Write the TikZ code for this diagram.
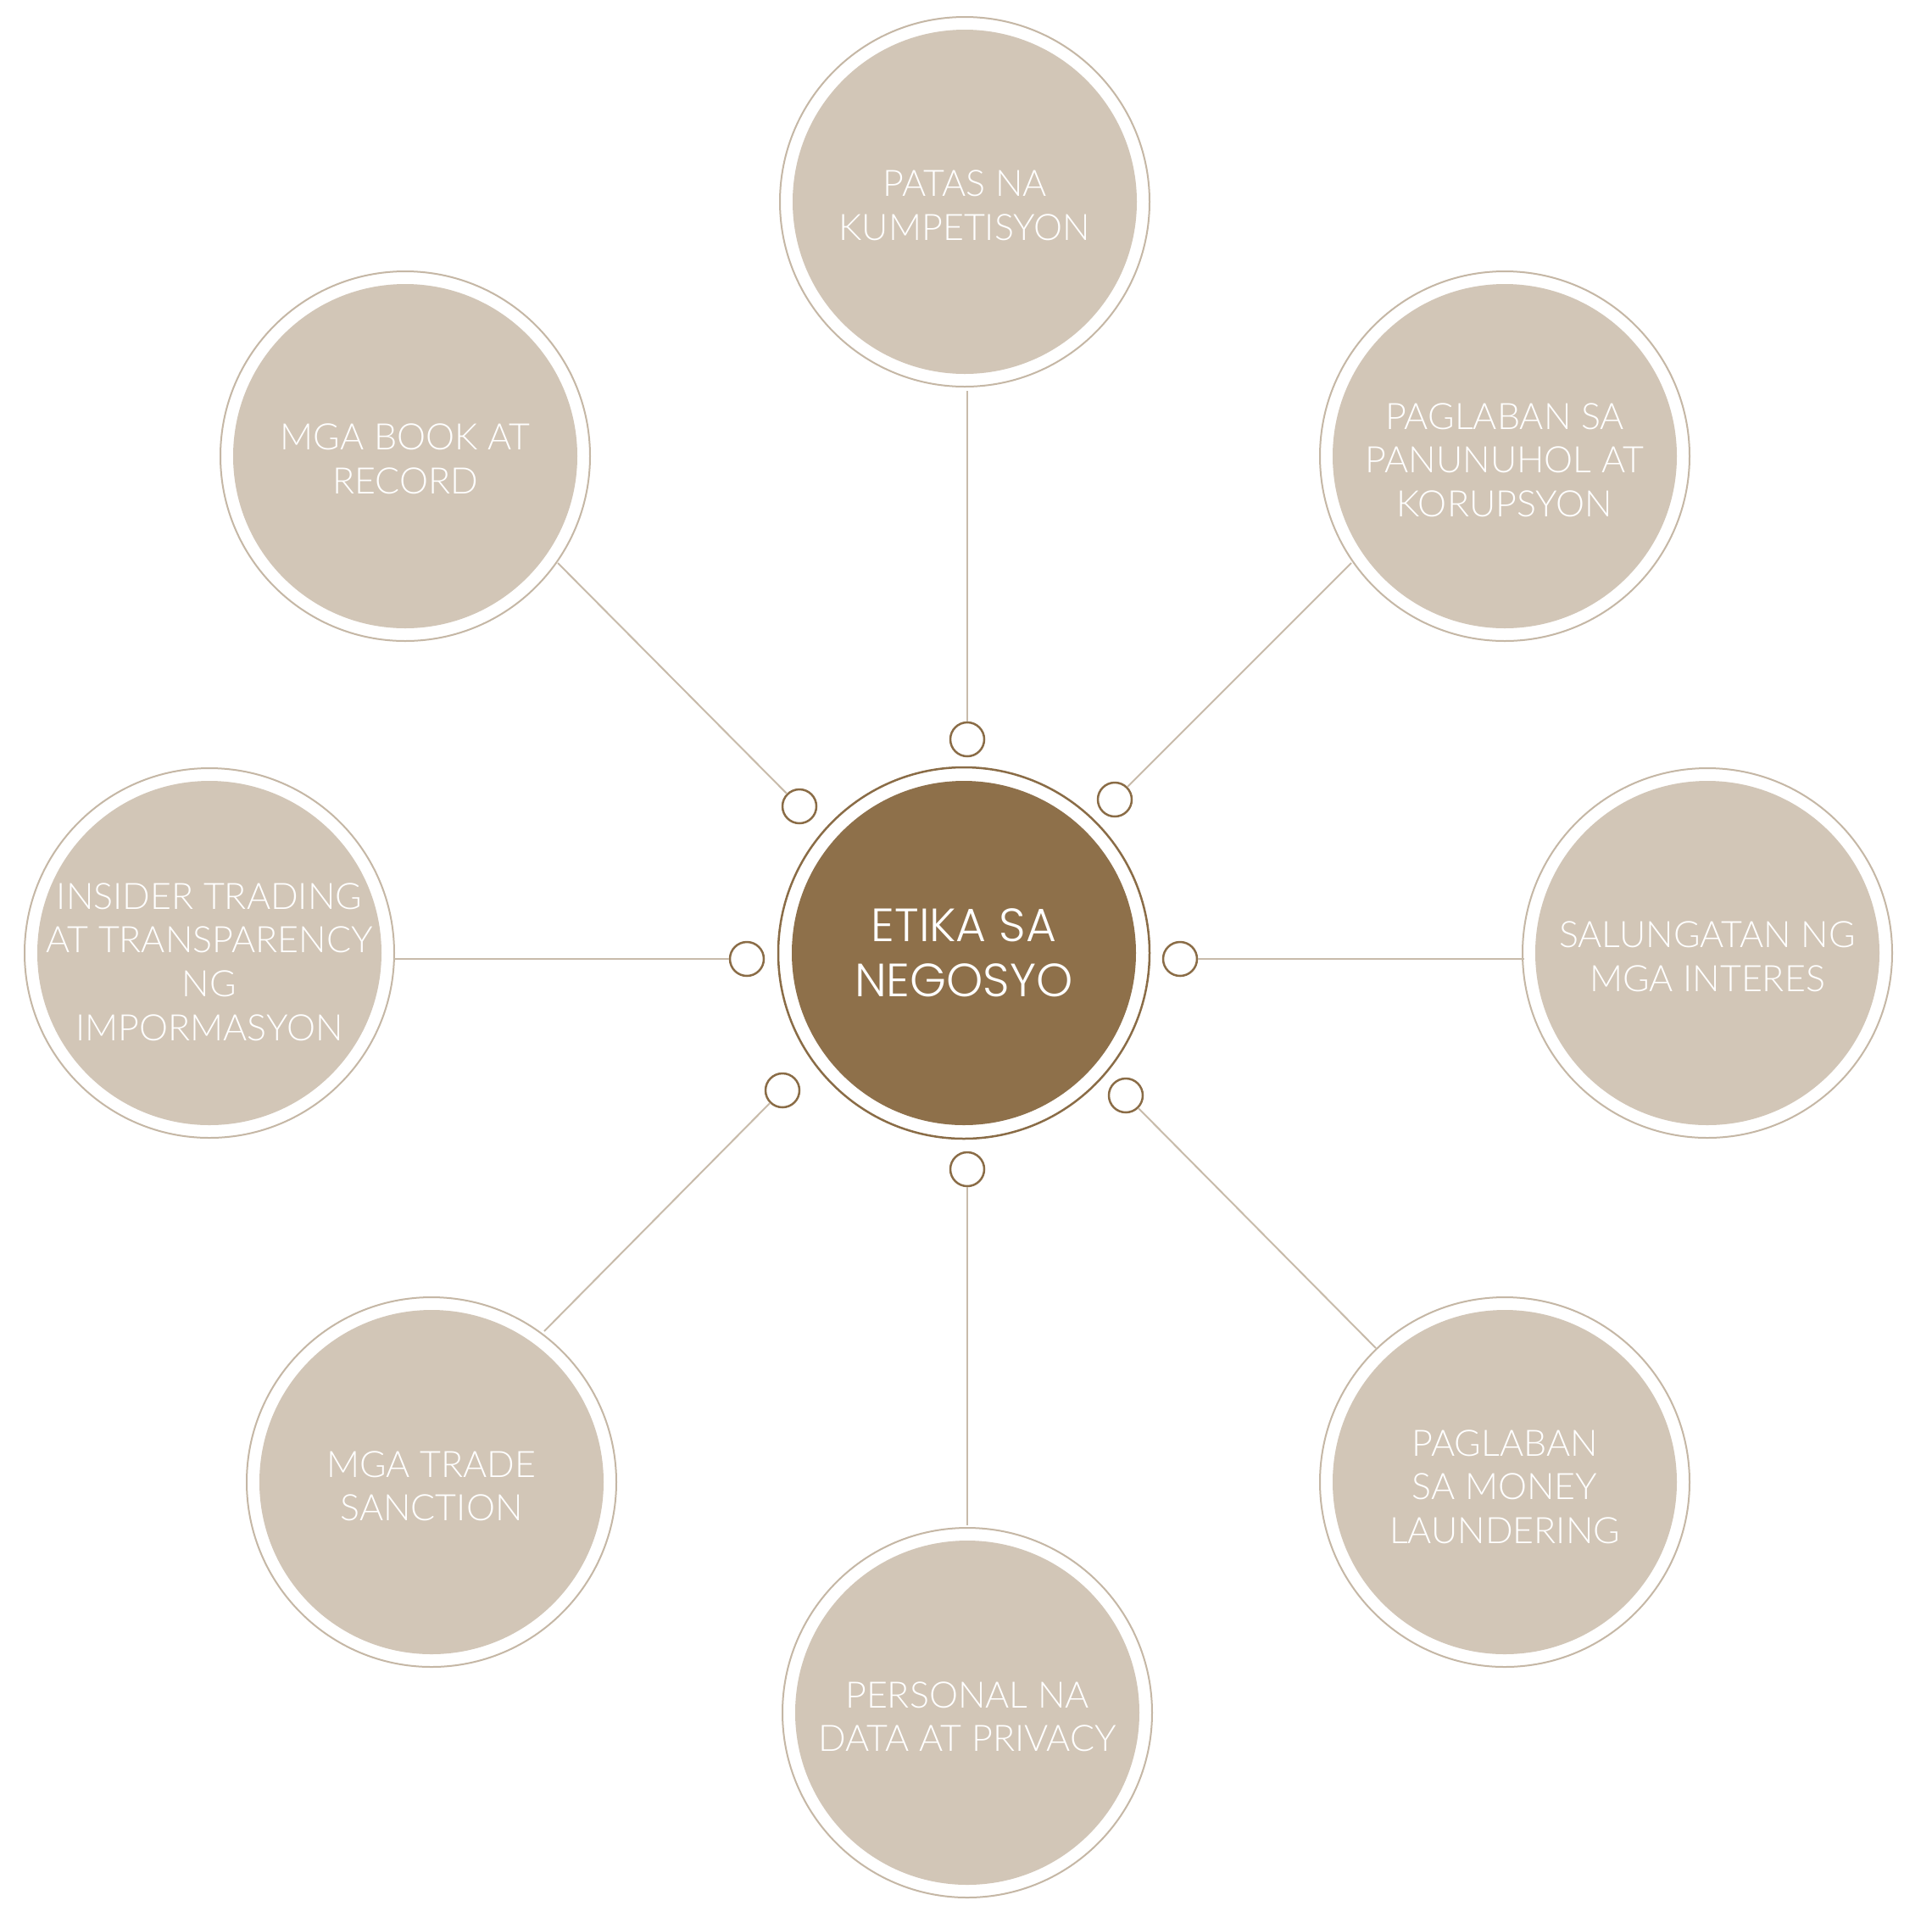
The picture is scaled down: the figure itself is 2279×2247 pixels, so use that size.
\documentclass[tikz,border=0pt]{standalone}
\usepackage{fontspec}
\newfontfamily\topicfont{Lato Light}
\newfontfamily\hubfont{Poppins Light}
\definecolor{tanfill}{HTML}{D2C6B7}
\definecolor{tanring}{HTML}{C5B7A5}
\definecolor{tanline}{HTML}{C8BBAA}
\definecolor{brownfill}{HTML}{8E704A}
\definecolor{brownline}{HTML}{8A6C46}
\newcommand{\topstrut}[1]{\rule{0pt}{#1}}
\begin{document}
\begin{tikzpicture}[x=1pt,y=-1pt,
  topic/.style={circle, fill=tanfill, minimum size=406pt, inner sep=0pt},
  ttext/.style={text=white, align=center, inner sep=0pt,
    font=\topicfont\fontsize{43}{51.7}\selectfont},
  hub/.style={circle, fill=brownfill, minimum size=406pt, inner sep=0pt, text=white, align=center,
    font=\hubfont\fontsize{55}{65}\selectfont},
  ringT/.style={draw=tanring, line width=2pt},
  ringH/.style={draw=brownline, line width=2.5pt},
  dot/.style={circle, draw=brownline, line width=2.5pt, fill=white, minimum size=40pt, inner sep=0pt},
  conn/.style={draw=tanline, line width=2pt}]
\useasboundingbox (0,0) rectangle (2279,2247);
\fill[white] (0,0) rectangle (2279,2247);

% hub
\node[hub] (hub) at (1137,1124) {ETIKA SA\\NEGOSYO};
\draw[ringH] (hub.center) circle[radius=219];

% topics
\node[topic, label={[ttext]center:{\topstrut{40pt}PATAS NA\\KUMPETISYON}}] (t1) at (1138,238) {};
\node[topic, label={[ttext]center:{\topstrut{40pt}PAGLABAN SA\\PANUNUHOL AT\\KORUPSYON}}] (t2) at (1775,538) {};
\node[topic, label={[ttext]center:{\topstrut{40pt}SALUNGATAN NG\\MGA INTERES}}] (t3) at (2014,1124) {};
\node[topic, label={[ttext]center:{\topstrut{42pt}PAGLABAN\\SA MONEY\\LAUNDERING}}] (t4) at (1775,1748) {};
\node[topic, label={[ttext]center:{\topstrut{40pt}PERSONAL NA\\DATA AT PRIVACY}}] (t5) at (1141,2020) {};
\node[topic, label={[ttext]center:{\topstrut{40pt}MGA TRADE\\SANCTION}}] (t6) at (509,1748) {};
\node[topic, label={[ttext]center:{\topstrut{52pt}INSIDER TRADING\\AT TRANSPARENCY\\NG\\IMPORMASYON}}] (t7) at (247,1124) {};
\node[topic, label={[ttext]center:{\topstrut{38pt}MGA BOOK AT\\RECORD}}] (t8) at (478,538) {};
\foreach \t in {t1,t2,t3,t4,t5,t6,t7,t8}
  \draw[ringT] (\t.center) circle[radius=218];

% connector end points on the outer rings
\coordinate (e1) at (1141,461);
\coordinate (e2) at (1594,664);
\coordinate (e3) at (1798,1131);
\coordinate (e4) at (1623,1590);
\coordinate (e5) at (1141,1799);
\coordinate (e6) at (642,1570);
\coordinate (e7) at (465,1131);
\coordinate (e8) at (658,664);

% small circles
\node[dot] (s1) at (1141,872) {};
\node[dot] (s2) at (1315,943) {};
\node[dot] (s3) at (1392,1131) {};
\node[dot] (s4) at (1328,1292) {};
\node[dot] (s5) at (1141,1379) {};
\node[dot] (s6) at (923,1286) {};
\node[dot] (s7) at (881,1131) {};
\node[dot] (s8) at (943,951) {};

\foreach \i in {1,...,8}
  \draw[conn] (s\i) -- (e\i);
\end{tikzpicture}
\end{document}
